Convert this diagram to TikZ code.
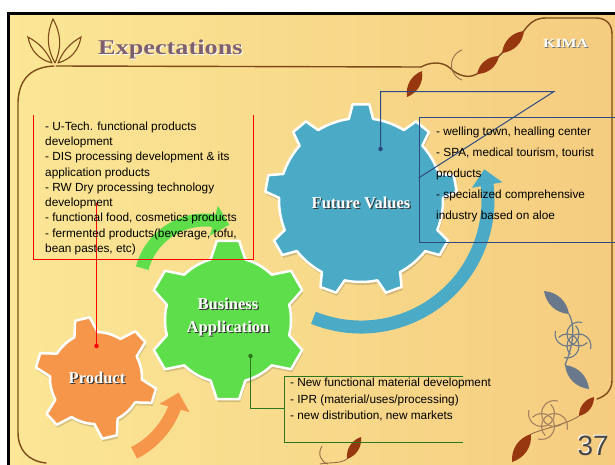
\documentclass[tikz,border=0pt]{standalone}
\usepackage{fontspec}
\usepackage{graphicx}
\setmainfont{Liberation Serif}
\newfontfamily\bodyfont{Liberation Sans}
\usetikzlibrary{arrows.meta,bending,calc}

\definecolor{bgleft}{RGB}{251,231,150}
\definecolor{bgright}{RGB}{245,204,128}
\definecolor{gearblue}{RGB}{75,170,198}
\definecolor{geargreen}{RGB}{93,222,74}
\definecolor{gearorange}{RGB}{245,150,75}
\definecolor{calloutblue}{RGB}{45,75,130}
\definecolor{calloutgreen}{RGB}{45,120,30}
\definecolor{calloutred}{RGB}{255,0,0}
\definecolor{vinebrown}{RGB}{125,75,25}
\definecolor{leafbrown}{RGB}{150,55,15}
\definecolor{titlemauve}{RGB}{125,95,112}
\definecolor{flourishgrey}{RGB}{105,120,138}
\definecolor{numgrey}{RGB}{70,70,70}

\tikzset{
  vine/.style={draw=vinebrown, line width=1.4, line cap=round},
  thinvine/.style={draw=vinebrown!80, line width=0.9},
  gearbody/.style={fill=#1, draw=white, line width=2.5, line join=round},
  gearshadow/.style={fill=black, opacity=0.15},
  fatarrow/.style={draw=#1, line width=13, -{Triangle[length=16pt,width=30pt,flex]}},
  listtext/.style={font=\bodyfont\fontsize{11.8}{#1}\selectfont, align=left,
    inner sep=0, anchor=north west, text=black},
  geartext/.style={font=\bfseries\fontsize{16.5}{20}\selectfont, inner sep=0,
    anchor=base, text=#1},
  calldot/.style={circle, fill=#1, inner sep=0, minimum size=4.5},
  callline/.style={draw=#1, line width=1},
}

% gear outline: centre x, centre y, teeth, root radius, tip radius,
% angle of first tooth, half-angle at tip, half-angle at root, style
\newcommand\gearshape[9]{%
  \begin{scope}[shift={(#1,#2)}]
    \path[#9] ({#6+360/#3-#8}:#4)
      \foreach \k in {1,...,#3}{
        -- ({#6+\k*360/#3-#7}:#5) -- ({#6+\k*360/#3+#7}:#5)
        -- ({#6+\k*360/#3+#8}:#4)
        arc[start angle={#6+\k*360/#3+#8}, end angle={#6+(\k+1)*360/#3-#8}, radius=#4]
      } -- cycle;
  \end{scope}}

% pointed leaf between two points
\newcommand\drawleaf[3]{\fill[#3] #1 to[bend left=38] #2 to[bend left=38] #1;}

% four-armed swirl: centre x, centre y, radius, colour
\newcommand\drawswirl[4]{%
  \foreach \k in {0,1,2,3}{
    \draw[#4, line width=1.1]
      ($(#1,#2)+({45+90*\k}:{0.7*#3})+({135+90*\k}:#3)$)
      arc[start angle={135+90*\k}, end angle={375+90*\k}, radius=#3];
  }}

% white lettering with a dark drop shadow
\newcommand\embossed[6]{%
  \node[geartext=#4] (#1-shade) at ($(#2,#3)+(1.2,1.4)$) {#6};
  \node[geartext=#5] (#1) at (#2,#3) {#6};}

\begin{document}
\begin{tikzpicture}[x=1pt,y=-1pt]
\useasboundingbox (0,0) rectangle (615,464);
\fill[white] (0,0) rectangle (615,464);
\shade[left color=bgleft, right color=bgright] (8,13) rectangle (615,464);
\draw[line width=3] (8,470) -- (8,13) -- (620,13);

% ---- ornamental frame ----
\draw[vine] (56,66) -- (421,67);
\draw[vine] (54,66) .. controls (32,67) and (19,78) .. (18,102) -- (18,432)
  .. controls (18,450) and (28,461) .. (46,463);
\draw[vine] (421,67) .. controls (430,62) and (442,61) .. (450,68)
  .. controls (458,76) and (470,80) .. (480,72);
\draw[vine] (497,58) -- (504,51);
\draw[vine] (523,32) .. controls (530,22) and (536,18) .. (546,18) -- (596,18)
  .. controls (606,18) and (612,24) .. (612,34) -- (612,380)
  .. controls (612,390) and (606,396) .. (597,399);
\draw[thinvine] (462,50) arc[start angle=-110, end angle=-250, radius=16];
\drawleaf{(407,97)}{(422,71)}{leafbrown}
\drawleaf{(477,74)}{(499,56)}{leafbrown}
\drawleaf{(502,53)}{(524,31)}{leafbrown}

% lotus at the top left
\draw[vine, line width=1.1] (55,63) to[bend left=26] (53,19) to[bend left=26] (55,63);
\draw[vine, line width=1.1] (52,63) to[bend left=32] (28,37) to[bend left=18] (52,63);
\draw[vine, line width=1.1] (58,63) to[bend right=32] (81,37) to[bend right=18] (58,63);

% grey flourish on the right
\draw[flourishgrey, line width=1.2] (569,314) .. controls (577,330) and (571,350) .. (565,365);
\drawleaf{(544,291)}{(569,314)}{flourishgrey}
\drawleaf{(565,365)}{(589,389)}{flourishgrey}
\drawswirl{573}{340}{12}{flourishgrey}

% brown flourish, bottom right
\draw[thinvine] (579,416) .. controls (565,425) and (545,428) .. (531,434);
\drawleaf{(594,397)}{(579,416)}{leafbrown}
\drawleaf{(531,434)}{(512,462)}{leafbrown}
\drawswirl{548}{420}{13}{vinebrown!70}

% brown flourish, bottom centre
\draw[thinvine] (347,459) .. controls (340,464) and (330,462) .. (320,464);
\draw[thinvine] (322,446) .. controls (317,454) and (321,462) .. (328,464);
\drawleaf{(361,437)}{(347,459)}{leafbrown}

% ---- title and logo ----
\node[anchor=base west, inner sep=0, text=white,
  font=\bfseries\fontsize{21}{21}\selectfont] (title-light) at (99,55)
  {\scalebox{1.25}[1]{Expectations}};
\node[anchor=base west, inner sep=0, text=titlemauve,
  font=\bfseries\fontsize{21}{21}\selectfont] (title) at (98,54)
  {\scalebox{1.25}[1]{Expectations}};
\node[anchor=base west, inner sep=0, text=black!55,
  font=\bfseries\fontsize{12.5}{12.5}\selectfont] (logo-shade) at (544,48)
  {\scalebox{1.27}[1]{KIMA}};
\node[anchor=base west, inner sep=0, text=white,
  font=\bfseries\fontsize{12.5}{12.5}\selectfont] (logo) at (543,47)
  {\scalebox{1.27}[1]{KIMA}};

% ---- rotation arrows ----
\coordinate (fvc) at (361,200);
\coordinate (bac) at (228,320);
\coordinate (prc) at (96,378);
\coordinate (baturn) at (205,285);
\draw[fatarrow=gearblue] ($(fvc)+(112:127)$) arc[start angle=112, end angle=-14, radius=127];
\draw[fatarrow=geargreen] ($(baturn)+(195:65)$) arc[start angle=195, end angle=292, radius=65];
\draw[fatarrow=gearorange] ($(prc)+(63:84)$) arc[start angle=63, end angle=10, radius=84];

% ---- gears ----
\gearshape{362}{203}{9}{82}{96}{-90}{5}{8.5}{gearshadow}
\gearshape{361}{200}{9}{82}{96}{-90}{5}{8.5}{gearbody=gearblue}
\gearshape{229}{323}{6}{63}{80}{-90}{8}{16}{gearshadow}
\gearshape{228}{320}{6}{63}{80}{-90}{8}{16}{gearbody=geargreen}
\gearshape{97}{381}{6}{46}{61}{-103}{7}{15}{gearshadow}
\gearshape{96}{378}{6}{46}{61}{-103}{7}{15}{gearbody=gearorange}

\embossed{fvlabel}{361}{208}{black!80}{white}{Future Values}
\embossed{balabel1}{228}{309}{black!80}{white}{Business}
\embossed{balabel2}{228}{332}{black!80}{white}{Application}
\embossed{prlabel}{97}{383}{black!80}{white}{Product}

% ---- callout: future values ----
\node[calldot=calloutblue] (fvdot) at (380.5,149) {};
\coordinate (fvq1) at (380.5,91.5);
\coordinate (fvq2) at (554,91.5);
\coordinate (fvq3) at (418.5,178);
\draw[callline=calloutblue] (fvdot.center) -- (fvq1) -- (fvq2) -- (fvq3);
\node[callline=calloutblue, minimum width=200pt, minimum height=125pt,
  anchor=north west, inner sep=0] (fvbox) at (418.5,116.5) {};
\node[listtext=21.2] (fvtext) at (436,126.4)
  {- welling town, healling center\\
   - SPA, medical tourism, tourist\\
   products\\
   - specialized comprehensive\\
   industry based on aloe};

% ---- callout: product ----
\coordinate (rtl) at (33.5,115);
\coordinate (rbl) at (33.5,259.5);
\coordinate (rbr) at (253.5,259.5);
\coordinate (rtr) at (253.5,115);
\draw[callline=calloutred] (rtl) -- (rbl) -- (rbr) -- (rtr);
\node[calldot=calloutred] (prdot) at (96.5,346) {};
\coordinate (prq) at (96.5,203);
\draw[callline=calloutred] (prdot.center) -- (prq);
\node[listtext=15.3] (prtext) at (45,121.4)
  {- U-Tech. functional products\\
   development\\
   - DIS processing development \& its\\
   application products\\
   - RW Dry processing technology\\
   development\\
   - functional food, cosmetics products\\
   - fermented products(beverage, tofu,\\
   bean pastes, etc)};

% ---- callout: business application ----
\coordinate (gtr) at (463,376.5);
\coordinate (gtl) at (284.5,376.5);
\coordinate (gbl) at (284.5,442.5);
\coordinate (gbr) at (463,442.5);
\draw[callline=calloutgreen] (gtr) -- (gtl) -- (gbl) -- (gbr);
\node[calldot=calloutgreen] (badot) at (250.5,356) {};
\coordinate (baq1) at (250.5,408.5);
\coordinate (baq2) at (284.5,408.5);
\draw[callline=calloutgreen] (badot.center) -- (baq1) -- (baq2);
\node[listtext=16.8] (batext) at (290,377.5)
  {- New functional material development\\
   - IPR (material/uses/processing)\\
   - new distribution, new markets};

% ---- page number ----
\node[anchor=base east, inner sep=0, text=white,
  font=\bodyfont\fontsize{28}{28}\selectfont] (pagenum-light) at (608,454) {37};
\node[anchor=base east, inner sep=0, text=numgrey,
  font=\bodyfont\fontsize{28}{28}\selectfont] (pagenum) at (609,455) {37};
\end{tikzpicture}
\end{document}
